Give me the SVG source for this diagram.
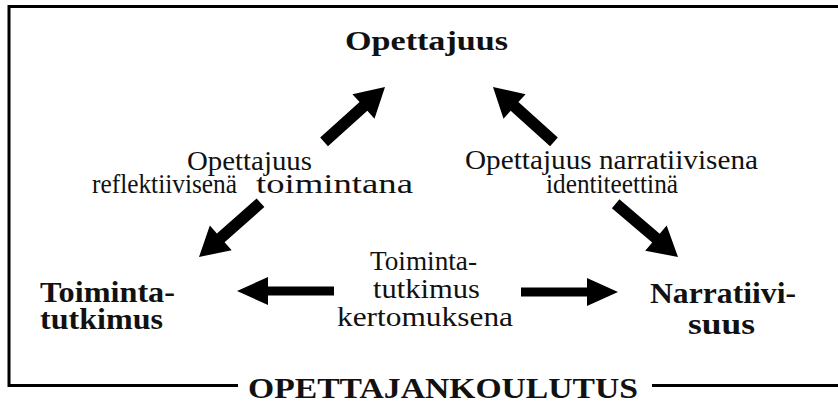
<svg xmlns="http://www.w3.org/2000/svg" xmlns:xlink="http://www.w3.org/1999/xlink" width="838" height="408" viewBox="0 0 838 408">
  <style>
    .frame { fill: none; stroke: #000; stroke-width: 3; }
    .lbl { font-family: "Liberation Serif", "Times New Roman", serif; font-size: 26.5px; fill: #111; }
    .title { font-family: "Liberation Serif", "Times New Roman", serif; font-size: 28px; font-weight: bold; fill: #111; }
    .node { font-family: "Liberation Serif", "Times New Roman", serif; font-size: 29.5px; font-weight: bold; fill: #111; }
    .foot { font-family: "Liberation Serif", "Times New Roman", serif; font-size: 30px; font-weight: bold; fill: #111; }
    .arrow { fill: #000; }
  </style>
  <defs>
    <!-- block arrows, tip at the origin, pointing along +x -->
    <path id="arrowDiag" d="M0,0 L-29,-16.5 L-29,-5.8 L-82,-5.8 L-82,5.8 L-29,5.8 L-29,16.5 Z"/>
    <path id="arrowHoriz" d="M0,0 L-31,-14 L-31,-4.5 L-97,-4.5 L-97,4.5 L-31,4.5 L-31,14 Z"/>
  </defs>
  <rect width="838" height="408" fill="#fff"/>

  <!-- outer frame, open on the right; bottom edge broken by the title -->
  <g id="frame">
    <path class="frame" d="M838,6.5 H9 V385.5 H238" />
    <path class="frame" d="M652,385.5 H838" />
    <text class="foot" x="443" y="398" text-anchor="middle" textLength="390" lengthAdjust="spacingAndGlyphs">OPETTAJANKOULUTUS</text>
  </g>

  <g id="opettajuus">
    <text class="title" x="426.5" y="50" text-anchor="middle" textLength="163" lengthAdjust="spacingAndGlyphs">Opettajuus</text>
  </g>

  <g id="toimintatutkimus">
    <text class="node" x="40" y="302" textLength="135" lengthAdjust="spacingAndGlyphs">Toiminta-</text>
    <text class="node" x="40" y="329" textLength="123" lengthAdjust="spacingAndGlyphs">tutkimus</text>
  </g>

  <g id="narratiivisuus">
    <text class="node" x="723" y="303" text-anchor="middle" textLength="146" lengthAdjust="spacingAndGlyphs">Narratiivi-</text>
    <text class="node" x="721.5" y="334" text-anchor="middle" textLength="67" lengthAdjust="spacingAndGlyphs">suus</text>
  </g>

  <g id="connectors">
    <use class="arrow" xlink:href="#arrowDiag" transform="translate(385,87) rotate(-42)"/>
    <use class="arrow" xlink:href="#arrowDiag" transform="translate(199,257) rotate(138.6)"/>
    <use class="arrow" xlink:href="#arrowDiag" transform="translate(493,87) rotate(-138)"/>
    <use class="arrow" xlink:href="#arrowDiag" transform="translate(678,257) rotate(40.5)"/>
    <use class="arrow" xlink:href="#arrowHoriz" transform="translate(237,291) rotate(180)"/>
    <use class="arrow" xlink:href="#arrowHoriz" transform="translate(618,292)"/>

    <!-- edge labels -->
    <g id="label-reflective">
      <text class="lbl" x="249.5" y="170" text-anchor="middle" textLength="125" lengthAdjust="spacingAndGlyphs">Opettajuus</text>
      <text class="lbl" x="92" y="193" textLength="145" lengthAdjust="spacingAndGlyphs">reflektiivisenä</text>
      <text class="lbl" x="256" y="193" textLength="157" lengthAdjust="spacingAndGlyphs">toimintana</text>
    </g>
    <g id="label-narrative">
      <text class="lbl" x="611.5" y="169" text-anchor="middle" textLength="293" lengthAdjust="spacingAndGlyphs">Opettajuus narratiivisena</text>
      <text class="lbl" x="612" y="193" text-anchor="middle" textLength="132" lengthAdjust="spacingAndGlyphs">identiteettinä</text>
    </g>
    <g id="label-story">
      <text class="lbl" x="423.5" y="270" text-anchor="middle" textLength="107" lengthAdjust="spacingAndGlyphs">Toiminta-</text>
      <text class="lbl" x="426.5" y="298" text-anchor="middle" textLength="107" lengthAdjust="spacingAndGlyphs">tutkimus</text>
      <text class="lbl" x="425" y="326" text-anchor="middle" textLength="176" lengthAdjust="spacingAndGlyphs">kertomuksena</text>
    </g>
  </g>
</svg>
